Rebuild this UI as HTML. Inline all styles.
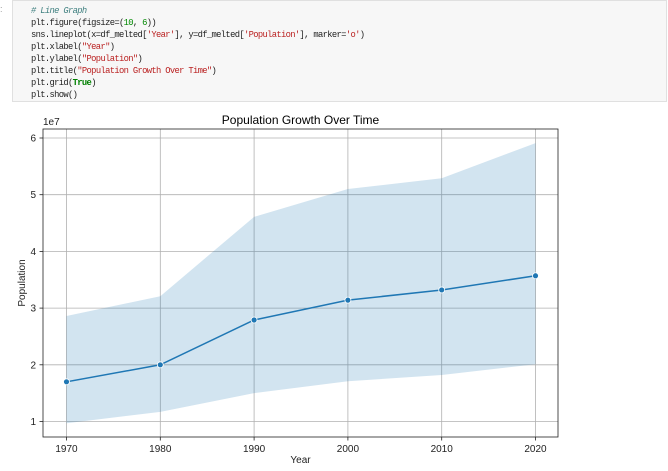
<!DOCTYPE html>
<html><head><meta charset="utf-8"><style>
body{margin:0;width:668px;height:471px;background:#fff;overflow:hidden;position:relative;font-family:"Liberation Sans",sans-serif}
.cell{position:absolute;left:12px;top:0;width:655px;height:102px;background:#f7f7f7;border:1px solid #e0e0e0;box-sizing:border-box}
.code{position:absolute;left:18px;top:4px;font-family:"Liberation Mono",monospace;font-size:8.8px;letter-spacing:-0.65px;line-height:12px;color:#222;white-space:pre;margin:0}
.cm{color:#408080;font-style:italic}.s{color:#ba2121}.n{color:#080}.k{color:#008000;font-weight:bold}
</style></head><body>
<div class="cell">
<pre class="code"><span class="cm"># Line Graph</span>
plt.figure(figsize=(<span class="n">10</span>, <span class="n">6</span>))
sns.lineplot(x=df_melted[<span class="s">'Year'</span>], y=df_melted[<span class="s">'Population'</span>], marker=<span class="s">'o'</span>)
plt.xlabel(<span class="s">"Year"</span>)
plt.ylabel(<span class="s">"Population"</span>)
plt.title(<span class="s">"Population Growth Over Time"</span>)
plt.grid(<span class="k">True</span>)
plt.show()</pre>
</div>
<div style="position:absolute;left:0;top:4px;font-size:9px;color:#999">:</div>
<svg id="chart" width="668" height="471" style="position:absolute;left:0;top:0"></svg>
<script>
const years=[1970,1980,1990,2000,2010,2020];
const meanVals=[1.70,2.00,2.79,3.14,3.32,3.57];
const upperVals=[2.86,3.21,4.61,5.10,5.29,5.91];
const lowerVals=[0.97,1.17,1.50,1.71,1.82,2.01];
const yTicks=[1,2,3,4,5,6];
const svg=document.getElementById('chart');
const NS='http://www.w3.org/2000/svg';
const L=43,R=558,T=129,B=437;
const xs=v=>66.5+(v-1970)*9.38;
const ys=v=>421.5-(v-1)*56.7;
function mk(tag,attrs,parent){const e=document.createElementNS(NS,tag);for(const k in attrs)e.setAttribute(k,attrs[k]);(parent||svg).appendChild(e);return e;}
years.forEach(y=>{const g=mk('line',{x1:xs(y),x2:xs(y),y1:T,y2:B,stroke:'#b0b0b0','stroke-width':0.8});

});
yTicks.forEach(t=>{const g=mk('line',{x1:L,x2:R,y1:ys(t),y2:ys(t),stroke:'#b0b0b0','stroke-width':0.8});

});
let d='M'+years.map((y,i)=>xs(y)+','+ys(upperVals[i])).join('L');
d+='L'+years.slice().reverse().map((y,j)=>{const i=years.length-1-j;return xs(y)+','+ys(lowerVals[i]);}).join('L')+'Z';
const band=mk('path',{d:d,fill:'#1f77b4','fill-opacity':0.2,stroke:'none'});


const line=mk('polyline',{points:years.map((y,i)=>xs(y)+','+ys(meanVals[i])).join(' '),fill:'none',stroke:'#1f77b4','stroke-width':1.5});


years.forEach((y,i)=>{const c=mk('circle',{cx:xs(y),cy:ys(meanVals[i]),r:3,fill:'#1f77b4',stroke:'#fff','stroke-width':0.8});

});
const fr=mk('rect',{x:L,y:T,width:R-L,height:B-T,fill:'none',stroke:'#222','stroke-width':0.8});


years.forEach(y=>{mk('line',{x1:xs(y),x2:xs(y),y1:B,y2:B+3.5,stroke:'#222','stroke-width':0.8});
const t=mk('text',{x:xs(y),y:B+15,'text-anchor':'middle','font-size':10,fill:'#222'});t.textContent=y;

});
yTicks.forEach(v=>{mk('line',{x1:L-3.5,x2:L,y1:ys(v),y2:ys(v),stroke:'#222','stroke-width':0.8});
const t=mk('text',{x:L-7,y:ys(v)+3.5,'text-anchor':'end','font-size':10,fill:'#222'});t.textContent=v;

});
const oe=mk('text',{x:L,y:T-4,'font-size':10,fill:'#222'});oe.textContent='1e7';


const ti=mk('text',{x:(L+R)/2,y:T-5,'text-anchor':'middle','font-size':12,fill:'#000'});ti.textContent='Population Growth Over Time';


const xl=mk('text',{x:(L+R)/2,y:463,'text-anchor':'middle','font-size':10,fill:'#222'});xl.textContent='Year';


const yl=mk('text',{x:0,y:0,'text-anchor':'middle','font-size':10,fill:'#222',transform:'translate(25,'+((T+B)/2)+') rotate(-90)'});yl.textContent='Population';


</script>
</body></html>
